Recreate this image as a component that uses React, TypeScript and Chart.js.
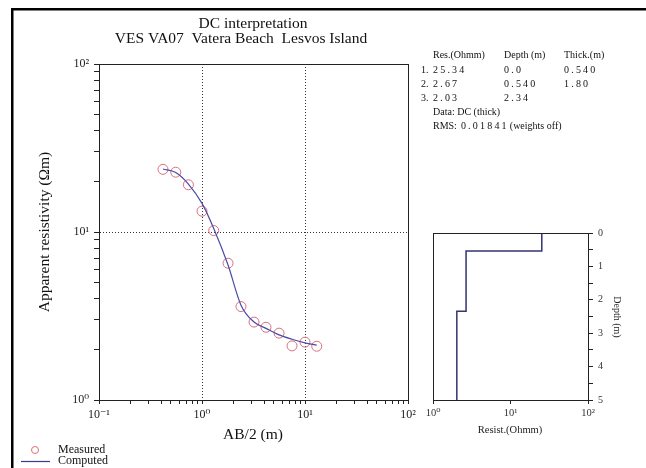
import React, { useEffect, useRef } from 'react';
import { Chart, registerables } from 'chart.js';
Chart.register(...registerables);

// ---- data ----
const abHalf = [0.418, 0.556, 0.738, 1.0, 1.30, 1.79, 2.39, 3.20, 4.18, 5.60, 7.48, 10.0, 13.0];
const measuredRho = [23.6, 22.7, 19.1, 13.3, 10.2, 6.52, 3.60, 2.91, 2.71, 2.50, 2.10, 2.21, 2.09];
const computedRho = [23.7, 22.6, 19.3, 14.8, 10.5, 6.36, 3.67, 2.91, 2.67, 2.44, 2.30, 2.19, 2.12];
const layerRes = [25.34, 2.67, 2.03];
const layerDepth = [0.0, 0.54, 2.34];
const layerThick = [0.54, 1.8];
const maxDepth = 5;
const resLabels = ['25.34', '2.67', '2.03'];
const depthLabels = ['0.0', '0.540', '2.34'];
const thickLabels = ['0.540', '1.80'];
const rmsLabel = '0.01841';
const xDecades = [-1, 0, 1];
const yDecades = [0, 1];
const depthTicks = [0, 0.5, 1, 1.5, 2, 2.5, 3, 3.5, 4, 4.5, 5];
const resistTicks = [1, 10, 100];

const SERIF = '"Liberation Serif", "DejaVu Serif", "Times New Roman", serif';
const SUP: Record<string, string> = { '-': '\u207B', '0': '\u2070', '1': '\u00B9', '2': '\u00B2', '3': '\u00B3' };

function pow10Exp(v: number): number | null {
  if (!(v > 0)) return null;
  const e = Math.round(Math.log10(v));
  return Math.abs(v - Math.pow(10, e)) / v < 1e-6 ? e : null;
}
function pow10Label(v: number): string {
  const e = pow10Exp(v);
  if (e === null) return '';
  return '10' + String(e).split('').map((c) => SUP[c] || c).join('');
}
function decadeTicks(decades: number[]) {
  const out: { value: number; major: boolean }[] = [];
  decades.forEach((d) => {
    for (let s = 1; s <= 9; s++) out.push({ value: +(s * Math.pow(10, d)).toPrecision(6), major: s === 1 });
  });
  const last = Math.pow(10, decades[decades.length - 1] + 1);
  out.push({ value: last, major: true });
  return out;
}

const mainPlugin = {
  id: 'mainDecor',
  afterDraw(chart: any) {
    const { ctx, chartArea: a } = chart;
    ctx.save();
    // outer frame
    ctx.fillStyle = '#000';
    ctx.fillRect(11, 8, 646 - 11, 2.5);
    ctx.fillRect(11, 8, 2.5, 468 - 8);
    // plot box
    ctx.strokeStyle = '#222';
    ctx.lineWidth = 1;
    ctx.strokeRect(Math.round(a.left) + 0.5, Math.round(a.top) + 0.5, Math.round(a.right - a.left), Math.round(a.bottom - a.top));
    ctx.fillStyle = '#111';
    // title
    ctx.textAlign = 'center';
    ctx.textBaseline = 'middle';
    ctx.font = `15.5px ${SERIF}`;
    ctx.fillText('DC interpretation', 253, 24);
    ctx.fillText('VES VA07  Vatera Beach  Lesvos Island', 241, 39);
    // axis titles
    ctx.fillText('AB/2 (m)', 253, 435);
    ctx.save();
    ctx.translate(45, 232);
    ctx.rotate(-Math.PI / 2);
    ctx.fillText('Apparent resistivity (\u03A9m)', 0, 0);
    ctx.restore();
    // legend
    ctx.strokeStyle = '#d8707c';
    ctx.beginPath();
    ctx.arc(35, 450, 3.5, 0, Math.PI * 2);
    ctx.stroke();
    ctx.strokeStyle = '#3b3b8c';
    ctx.lineWidth = 1.2;
    ctx.beginPath();
    ctx.moveTo(21, 461.5);
    ctx.lineTo(50, 461.5);
    ctx.stroke();
    ctx.textAlign = 'left';
    ctx.font = `12px ${SERIF}`;
    ctx.fillText('Measured', 58, 449.5);
    ctx.fillText('Computed', 58, 461);
    // table
    ctx.font = `10px ${SERIF}`;
    ctx.fillText('Res.(Ohmm)', 433, 55);
    ctx.fillText('Depth (m)', 504, 55);
    ctx.fillText('Thick.(m)', 564, 55);
    const rowY = [70, 84, 98];
    resLabels.forEach((r, i) => {
      ctx.letterSpacing = '0px';
      ctx.fillText(`${i + 1}.`, 421, rowY[i]);
      ctx.letterSpacing = '2.2px';
      ctx.fillText(r, 433, rowY[i]);
      ctx.fillText(depthLabels[i], 504, rowY[i]);
      if (thickLabels[i]) ctx.fillText(thickLabels[i], 564, rowY[i]);
    });
    ctx.letterSpacing = '0px';
    ctx.fillText('Data: DC (thick)', 433, 112);
    ctx.fillText('RMS:', 433, 126);
    const w = ctx.measureText('RMS:').width;
    const nx = 433 + w + 4;
    ctx.letterSpacing = '2.2px';
    ctx.fillText(rmsLabel, nx, 126);
    const w2 = ctx.measureText(rmsLabel).width;
    ctx.letterSpacing = '0px';
    ctx.fillText('(weights off)', nx + w2 + 1, 126);
    ctx.restore();
  },
};

const depthPlugin = {
  id: 'depthDecor',
  afterDraw(chart: any) {
    const { ctx, chartArea: a } = chart;
    ctx.save();
    ctx.strokeStyle = '#222';
    ctx.lineWidth = 1;
    ctx.strokeRect(Math.round(a.left) + 0.5, Math.round(a.top) + 0.5, Math.round(a.right - a.left), Math.round(a.bottom - a.top));
    ctx.fillStyle = '#222';
    ctx.textAlign = 'center';
    ctx.textBaseline = 'middle';
    ctx.font = `10.5px ${SERIF}`;
    ctx.fillText('Resist.(Ohmm)', 90, 210);
    ctx.save();
    ctx.translate(197, 97);
    ctx.rotate(Math.PI / 2);
    ctx.font = `10px ${SERIF}`;
    ctx.fillText('Depth (m)', 0, 0);
    ctx.restore();
    ctx.restore();
  },
};

export default function App() {
  const mainRef = useRef<HTMLCanvasElement>(null);
  const depthRef = useRef<HTMLCanvasElement>(null);

  useEffect(() => {
    Chart.defaults.font.family = SERIF;
    Chart.defaults.color = '#222';
    const xTicks = decadeTicks(xDecades);
    const yTicks = decadeTicks(yDecades);
    const innerGrid = (c: any) => {
      const v = c.tick ? c.tick.value : null;
      const e = v !== null ? pow10Exp(v) : null;
      return e !== null && c.index !== 0 && c.tick.value !== c.scale.max ? '#333' : 'rgba(0,0,0,0)';
    };
    const main = new Chart(mainRef.current!, {
      type: 'scatter',
      data: {
        datasets: [
          {
            label: 'Computed',
            data: abHalf.map((x, i) => ({ x, y: computedRho[i] })),
            showLine: true,
            borderColor: '#4b4ba6',
            borderWidth: 1.2,
            pointRadius: 0,
            cubicInterpolationMode: 'monotone',
            fill: false,
          } as any,
          {
            label: 'Measured',
            data: abHalf.map((x, i) => ({ x, y: measuredRho[i] })),
            showLine: false,
            pointRadius: 5,
            pointBorderColor: '#d8707c',
            pointBackgroundColor: 'rgba(0,0,0,0)',
            pointBorderWidth: 1,
          } as any,
        ],
      },
      options: {
        animation: false,
        responsive: false,
        maintainAspectRatio: false,
        layout: { padding: { left: 0, top: 64, right: 238, bottom: 0 } },
        plugins: { legend: { display: false }, tooltip: { enabled: false }, title: { display: false } },
        scales: {
          x: {
            type: 'logarithmic',
            min: 0.1,
            max: 100,
            afterBuildTicks: (s: any) => { s.ticks = xTicks.map((t) => ({ ...t })); },
            afterFit: (s: any) => { s.height = 68; },
            grid: { color: innerGrid, lineWidth: 1, tickColor: '#222', tickLength: 4, drawTicks: true },
            border: { display: true, color: '#222', width: 1, dash: [1, 2] },
            ticks: { autoSkip: false, maxRotation: 0, padding: 4, color: '#222', font: { size: 12 }, callback: (v: any) => pow10Label(Number(v)) },
          },
          y: {
            type: 'logarithmic',
            min: 1,
            max: 100,
            afterBuildTicks: (s: any) => { s.ticks = yTicks.map((t) => ({ ...t })); },
            afterFit: (s: any) => { s.width = 99; },
            grid: { color: innerGrid, lineWidth: 1, tickColor: '#222', tickLength: 5, drawTicks: true },
            border: { display: true, color: '#222', width: 1, dash: [1, 2] },
            ticks: { autoSkip: false, padding: 5, color: '#222', font: { size: 12 }, callback: (v: any) => pow10Label(Number(v)) },
          },
        },
      },
      plugins: [mainPlugin],
    } as any);

    const stepPts: { x: number; y: number }[] = [];
    layerRes.forEach((r, i) => {
      const top = layerDepth[i];
      const bottom = i < layerRes.length - 1 ? layerDepth[i + 1] : maxDepth;
      stepPts.push({ x: r, y: top }, { x: r, y: bottom });
    });
    void layerThick;

    const depth = new Chart(depthRef.current!, {
      type: 'scatter',
      data: {
        datasets: [
          {
            label: 'Model',
            data: stepPts,
            showLine: true,
            borderColor: '#34346e',
            borderWidth: 1.5,
            pointRadius: 0,
            tension: 0,
            fill: false,
          } as any,
        ],
      },
      options: {
        animation: false,
        responsive: false,
        maintainAspectRatio: false,
        layout: { padding: { left: 13, top: 13, right: 0, bottom: 0 } },
        plugins: { legend: { display: false }, tooltip: { enabled: false } },
        scales: {
          x: {
            type: 'logarithmic',
            min: 1,
            max: 100,
            afterBuildTicks: (s: any) => { s.ticks = resistTicks.map((v) => ({ value: v, major: true })); },
            afterFit: (s: any) => { s.height = 68; },
            grid: { color: 'rgba(0,0,0,0)', tickColor: '#222', tickLength: 4, drawTicks: true },
            border: { display: true, color: '#222', width: 1 },
            ticks: { autoSkip: false, maxRotation: 0, padding: 3, color: '#333', font: { size: 10.5 }, callback: (v: any) => pow10Label(Number(v)) },
          },
          y: {
            type: 'linear',
            position: 'right',
            reverse: true,
            min: 0,
            max: maxDepth,
            afterBuildTicks: (s: any) => { s.ticks = depthTicks.map((v) => ({ value: v })); },
            afterFit: (s: any) => { s.width = 58; },
            grid: { color: 'rgba(0,0,0,0)', tickColor: '#222', tickLength: 5, drawTicks: true },
            border: { display: true, color: '#222', width: 1 },
            ticks: { autoSkip: false, padding: 5, color: '#333', font: { size: 10 }, callback: (v: any) => (Number.isInteger(Number(v)) ? String(v) : '') },
          },
        },
      },
      plugins: [depthPlugin],
    } as any);

    return () => {
      main.destroy();
      depth.destroy();
    };
  }, []);

  return (
    <div style={{ position: 'absolute', left: 0, top: 0, width: 646, height: 468, background: '#fff', overflow: 'hidden' }}>
      <canvas ref={mainRef} width={646} height={468} style={{ position: 'absolute', left: 0, top: 0, width: 646, height: 468 }} />
      <canvas ref={depthRef} width={226} height={248} style={{ position: 'absolute', left: 420, top: 220, width: 226, height: 248 }} />
    </div>
  );
}
